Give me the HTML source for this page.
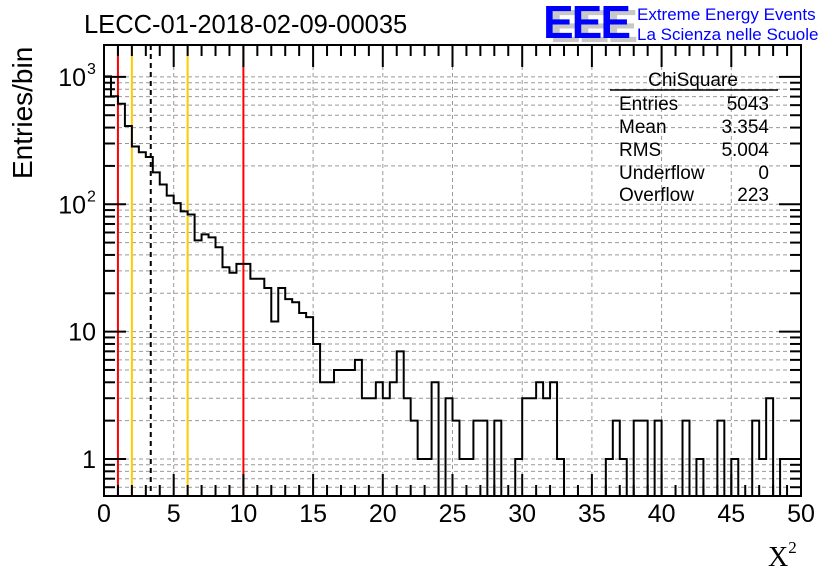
<!DOCTYPE html>
<html><head><meta charset="utf-8"><style>
body{margin:0;background:#fff;}
svg{display:block;font-family:"Liberation Sans",sans-serif;}
</style></head><body>
<svg id="chart" width="836" height="572" viewBox="0 0 836 572" xmlns="http://www.w3.org/2000/svg">
<rect width="836" height="572" fill="#fff"/>
<g id="grid"></g>
<g id="vlines"></g>
<path id="hist" fill="none" stroke="#000" stroke-width="2"/>
<rect x="104" y="45" width="697" height="451" fill="none" stroke="#000" stroke-width="2"/>
<g id="axes"></g>
<text x="84" y="33" font-size="25.5">LECC-01-2018-02-09-00035</text>
<text transform="translate(32,179) rotate(-90)" font-size="28">Entries/bin</text>
<text x="768" y="566" font-size="28" font-family="Liberation Serif,serif">X<tspan font-size="17" dy="-13">2</tspan></text>
<g>
<text x="550" y="42" font-size="46" font-weight="bold" fill="#c8c8c8" letter-spacing="-2">EEE</text>
<text x="543" y="38" font-size="46" font-weight="bold" fill="#0000ff" letter-spacing="-2">EEE</text>
<text x="637" y="20" font-size="17" fill="#0000ff">Extreme Energy Events</text>
<text x="637" y="40" font-size="17" fill="#0000ff">La Scienza nelle Scuole</text>
</g>
<g font-size="19">
<text x="693" y="86" text-anchor="middle">ChiSquare</text>
<line x1="610" y1="90" x2="778" y2="90" stroke="#000" stroke-width="1.5"/>
<text x="619" y="110">Entries</text><text x="769" y="110" text-anchor="end">5043</text>
<text x="619" y="133">Mean</text><text x="769" y="133" text-anchor="end">3.354</text>
<text x="619" y="156">RMS</text><text x="769" y="156" text-anchor="end">5.004</text>
<text x="619" y="179">Underflow</text><text x="769" y="179" text-anchor="end">0</text>
<text x="619" y="201">Overflow</text><text x="769" y="201" text-anchor="end">223</text>
</g>
</svg>
<script>
const counts = [1010,704,616,412,284,256,235,178,143,117,102,88,83,52,58,55,46,32,29,34,34,26,26,22,12,22,18,17,14,13,
8,4,4,5,5,5,6,3,3,4,3,4,7,3,2,1,1,4,0,3,2,1,1,2,2,0,2,0,0,1,3,3,4,3,4,1,0,0,0,0,0,0,1,2,1,0,2,2,0,2,0,0,0,2,0,1,0,0,2,0,1,0,0,2,1,3,0,1,1,1];
const xTicks = [0,5,10,15,20,25,30,35,40,45,50];
const markerLines = [{x:1,c:"#ff0000",d:""},{x:2,c:"#ffcc00",d:""},{x:3.354,c:"#000",d:"5,4"},{x:6,c:"#ffcc00",d:""},{x:10,c:"#ff0000",d:""}];
const NS="http://www.w3.org/2000/svg";
const X0=104,X1=801,Y0=45,Y1=496,XMIN=0,XMAX=50,LMIN=Math.log10(0.512),LMAX=Math.log10(1780),BW=0.5;
const xs=v=>X0+(v-XMIN)/(XMAX-XMIN)*(X1-X0);
const ys=v=>v<=0?Y1:Math.max(Y0,Math.min(Y1,Y1-(Math.log10(v)-LMIN)/(LMAX-LMIN)*(Y1-Y0)));
function mk(tag,attrs,parent){const e=document.createElementNS(NS,tag);for(const k in attrs)e.setAttribute(k,attrs[k]);parent.appendChild(e);return e;}
const grid=document.getElementById('grid'),axes=document.getElementById('axes'),vl=document.getElementById('vlines');
for(let d=-1;d<=3;d++){for(let m=1;m<=9;m++){const v=m*Math.pow(10,d);const y=ys(v);if(y<=Y0||y>=Y1)continue;
const g=mk('line',{x1:X0,x2:X1,y1:y,y2:y,stroke:'#999','stroke-dasharray':'4,3','stroke-width':1},grid);


const L=m===1?22:11;
mk('line',{x1:X0,x2:X0+L,y1:y,y2:y,stroke:'#000','stroke-width':2},axes);
mk('line',{x1:X1-L,x2:X1,y1:y,y2:y,stroke:'#000','stroke-width':2},axes);}}
const yLab=[[1000,'10','3'],[100,'10','2'],[10,'10',''],[1,'1','']];
yLab.forEach(l=>{const t=mk('text',{x:l[2]?86:96,y:ys(l[0])+9,'font-size':25,'text-anchor':'end'},axes);t.textContent=l[1];


if(l[2]){const s=mk('text',{x:87,y:ys(l[0])-3,'font-size':16},axes);s.textContent=l[2];}});
for(let v=0;v<=50;v+=1){const x=xs(v);const L=v%5===0?22:11;
mk('line',{x1:x,x2:x,y1:Y1,y2:Y1-L,stroke:'#000','stroke-width':2},axes);
mk('line',{x1:x,x2:x,y1:Y0,y2:Y0+L,stroke:'#000','stroke-width':2},axes);}
xTicks.forEach(v=>{const x=xs(v);
if(v>0&&v<50){const g=mk('line',{x1:x,x2:x,y1:Y0,y2:Y1,stroke:'#999','stroke-dasharray':'4,3','stroke-width':1},grid);

}
const t=mk('text',{x:x,y:522,'font-size':25,'text-anchor':'middle'},axes);t.textContent=v;

});
markerLines.forEach(m=>{const l=mk('line',{x1:xs(m.x),x2:xs(m.x),y1:Y0,y2:Y1,stroke:m.c,'stroke-width':2},vl);
if(m.d)l.setAttribute('stroke-dasharray',m.d);

});
let d='M'+xs(0)+','+Y1;
counts.forEach((c,i)=>{const y=ys(c);d+=' L'+xs(i*BW)+','+y+' L'+xs((i+1)*BW)+','+y;});
d+=' L'+xs(counts.length*BW)+','+Y1;
document.getElementById('hist').setAttribute('d',d);
</script>
</body></html>
